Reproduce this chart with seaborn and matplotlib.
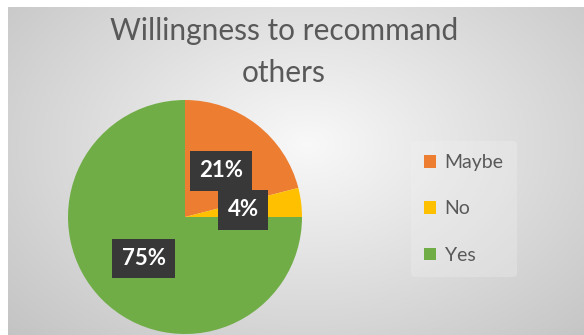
import numpy as np
import matplotlib
matplotlib.use("Agg")
import matplotlib.pyplot as plt
import seaborn as sns
from matplotlib.patches import Patch

categories = ["Maybe", "No", "Yes"]
shares = [21, 4, 75]
title = "Willingness to recommand\nothers"

sns.set_theme(style="white")
plt.rcParams["font.family"] = ["Lato", "DejaVu Sans"]
colors = ["#ED7D31", "#FFC000", "#70AD47"]

W, H = 584, 335
fig = plt.figure(figsize=(W / 100, H / 100), dpi=100)
fig.patch.set_facecolor("white")

# background with radial gradient
bg = fig.add_axes([8 / W, 0, (W - 8) / W, (H - 7) / H])
bg.set_axis_off()
yy, xx = np.mgrid[0:1:200j, 0:1:300j]
d = np.sqrt(((xx - 0.52) / 0.75) ** 2 + ((yy - 0.42) / 0.9) ** 2)
val = np.clip(0.975 - 0.22 * d, 0, 1)
img = np.dstack([val, val, val])
bg.imshow(img, aspect="auto", extent=[0, 1, 0, 1], origin="upper", interpolation="bicubic")
bg.set_xlim(0, 1)
bg.set_ylim(0, 1)

# pie
cx, cy, r = 185, 217, 117
ax = fig.add_axes([(cx - r) / W, (H - cy - r) / H, 2 * r / W, 2 * r / H])
ax.set_facecolor("none")
wedges, _, autotexts = ax.pie(
    shares, colors=colors, startangle=90, counterclock=False,
    autopct=lambda p: f"{p:.0f}%", pctdistance=0.5,
    wedgeprops=dict(linewidth=0),
    textprops=dict(color="white", fontsize=16, fontweight="bold"),
)
for t in autotexts:
    t.set_bbox(dict(boxstyle="square,pad=0.42", facecolor="#383838", edgecolor="none"))
ax.set_xlim(-1, 1)
ax.set_ylim(-1, 1)
ax.set_aspect("equal")

fig.text(284 / W, 1 - 17 / H, title, ha="center", va="top", fontsize=21.5,
         color="#595959", linespacing=1.62)

handles = [Patch(facecolor=c, edgecolor="none") for c in colors]
leg = fig.legend(handles, categories, loc="center", bbox_to_anchor=(464 / W, 1 - 209 / H),
                 frameon=True, fontsize=14, labelspacing=1.5, handlelength=0.6,
                 handleheight=0.6, handletextpad=0.45, borderpad=0.7)
leg.get_frame().set_facecolor("#f2f2f2")
leg.get_frame().set_alpha(0.3)
leg.get_frame().set_edgecolor("none")
for t in leg.get_texts():
    t.set_color("#595959")

fig.savefig("out.png", dpi=100)
